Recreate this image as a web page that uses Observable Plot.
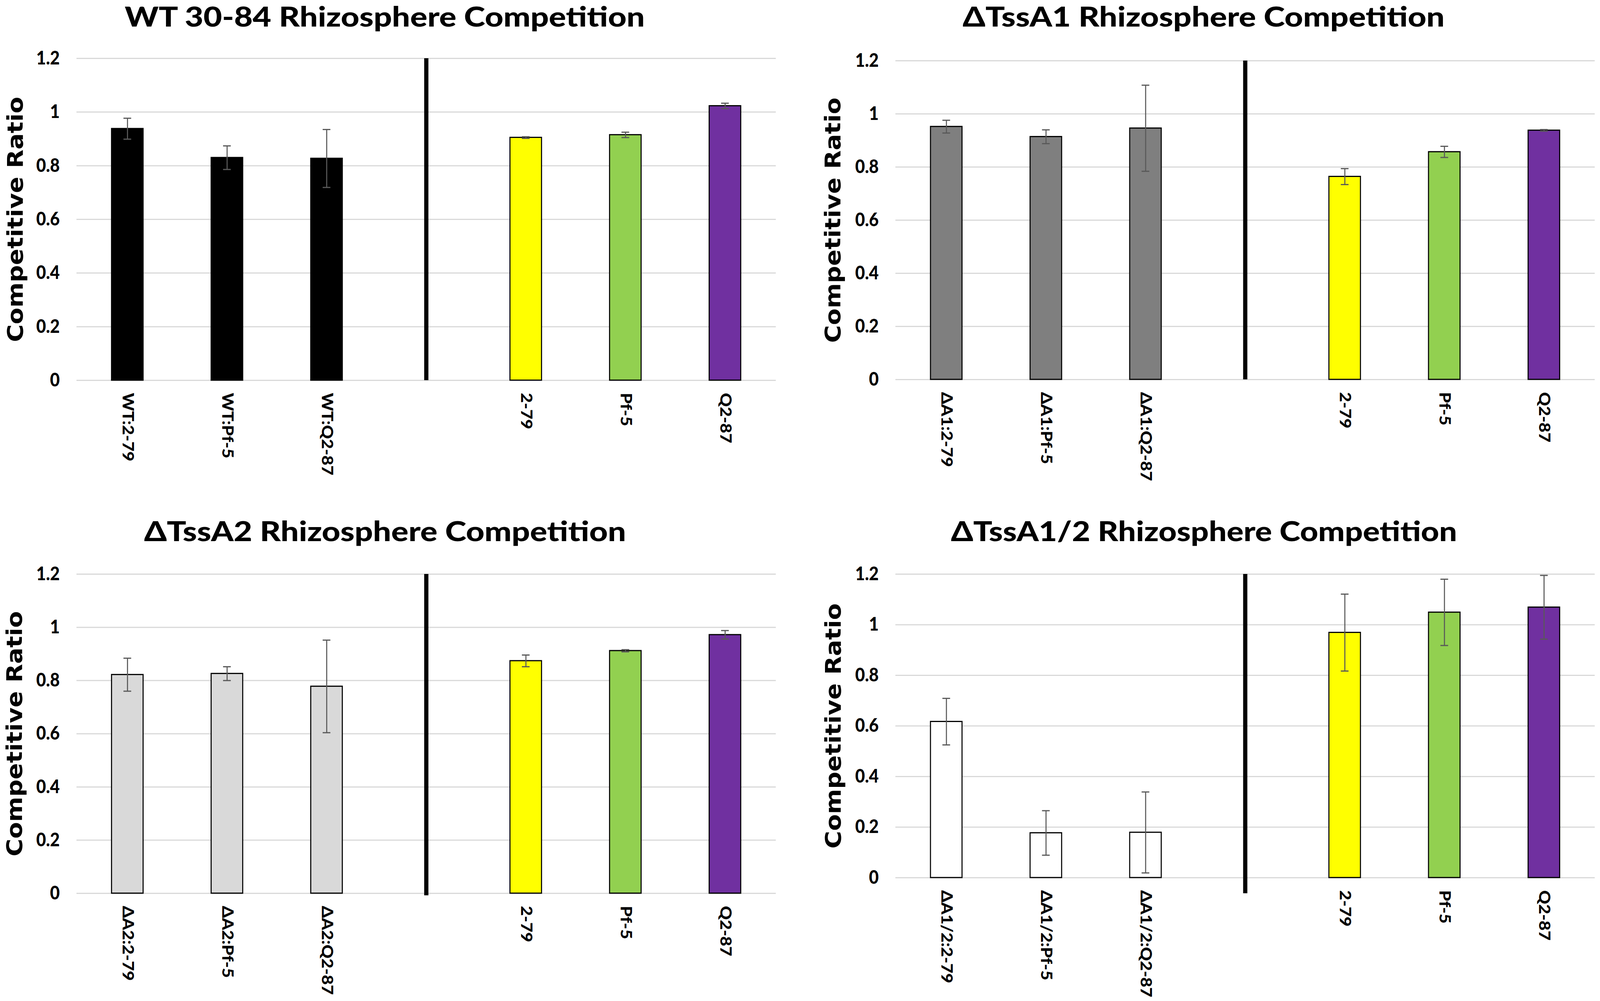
<!DOCTYPE html>
<html>
<head>
<meta charset="utf-8">
<script src="https://cdn.jsdelivr.net/npm/d3@7"></script>
<script src="https://cdn.jsdelivr.net/npm/@observablehq/plot@0.6"></script>
<style>
  html, body { margin: 0; padding: 0; background: #fff; overflow: hidden; }
  #wrap { position: relative; overflow: hidden; background: #fff; width: 4562px; height: 2562px; }
  #page { position: absolute; left: 0; top: 0; width: 4562px; height: 2562px; background: #fff; overflow: hidden; transform-origin: 0 0; }
  .panel { position: absolute; }
  .panel svg { display: block; max-width: none !important; }
  .panel svg text { font-weight: 900; }
  .title { position: absolute; left: 0; top: 0; pointer-events: none; }
</style>
</head>
<body>
<div id="wrap"><div id="page"></div></div>
<script>
// ---------- DATA ----------
const titles = [
  "WT 30-84 Rhizosphere Competition",
  "ΔTssA1 Rhizosphere Competition",
  "ΔTssA2 Rhizosphere Competition",
  "ΔTssA1/2 Rhizosphere Competition"
];
const yLabel = "Competitive Ratio";
const yTicks = [0, 0.2, 0.4, 0.6, 0.8, 1, 1.2];
const yTickLabels = ["0", "0.2", "0.4", "0.6", "0.8", "1", "1.2"];

const controlLabels = ["2-79", "Pf-5", "Q2-87"];
const controlFills = ["#ffff00", "#92d050", "#7030a0"];

const wtLabels  = ["WT:2-79", "WT:Pf-5", "WT:Q2-87"];
const a1Labels  = ["ΔA1:2-79", "ΔA1:Pf-5", "ΔA1:Q2-87"];
const a2Labels  = ["ΔA2:2-79", "ΔA2:Pf-5", "ΔA2:Q2-87"];
const a12Labels = ["ΔA1/2:2-79", "ΔA1/2:Pf-5", "ΔA1/2:Q2-87"];

const wtValues  = [0.938, 0.830, 0.827];
const wtErrors  = [0.039, 0.044, 0.108];
const wtCtrl    = [0.905, 0.915, 1.023];
const wtCtrlErr = [0.003, 0.010, 0.010];

const a1Values  = [0.952, 0.914, 0.946];
const a1Errors  = [0.024, 0.026, 0.162];
const a1Ctrl    = [0.764, 0.857, 0.938];
const a1CtrlErr = [0.030, 0.021, 0.003];

const a2Values  = [0.822, 0.826, 0.778];
const a2Errors  = [0.062, 0.026, 0.174];
const a2Ctrl    = [0.874, 0.912, 0.972];
const a2CtrlErr = [0.022, 0.004, 0.016];

const a12Values  = [0.617, 0.177, 0.179];
const a12Errors  = [0.092, 0.088, 0.160];
const a12Ctrl    = [0.969, 1.049, 1.069];
const a12CtrlErr = [0.152, 0.131, 0.126];

const mutantFills = ["#000000", "#7f7f7f", "#d9d9d9", "#ffffff"];
const dividerLow = [0, 0, -0.008, -0.062];

// ---------- LAYOUT ----------
const layout = [
  {left: 0,    top: 0,    width: 2281, height: 1280, mt: 149, mr: 69, mb: 307, ml: 218, labelDx: -174, titleX: 1097, titleY: 68,  titleW: 1483},
  {left: 2280, top: 0,    width: 2282, height: 1280, mt: 155, mr: 15, mb: 309, ml: 273, labelDx: -178, titleX: 1152, titleY: 68,  titleW: 1374},
  {left: 0,    top: 1280, width: 2281, height: 1282, mt: 189, mr: 69, mb: 276, ml: 218, labelDx: -176, titleX: 1098, titleY: 105, titleW: 1374},
  {left: 2280, top: 1280, width: 2282, height: 1282, mt: 189, mr: 15, mb: 316, ml: 273, labelDx: -176, titleX: 1153, titleY: 105, titleW: 1443}
];

const series = [
  {labels: wtLabels,  values: wtValues,  errors: wtErrors,  ctrl: wtCtrl,  ctrlErr: wtCtrlErr},
  {labels: a1Labels,  values: a1Values,  errors: a1Errors,  ctrl: a1Ctrl,  ctrlErr: a1CtrlErr},
  {labels: a2Labels,  values: a2Values,  errors: a2Errors,  ctrl: a2Ctrl,  ctrlErr: a2CtrlErr},
  {labels: a12Labels, values: a12Values, errors: a12Errors, ctrl: a12Ctrl, ctrlErr: a12CtrlErr}
];

const wrap = document.getElementById("wrap");
const page = document.getElementById("page");
const errColor = "#595959";

series.forEach((s, k) => {
  const L = layout[k];
  const rows = [];
  s.labels.forEach((c, i) => rows.push({cat: c, v: s.values[i], e: s.errors[i], fill: mutantFills[k]}));
  controlLabels.forEach((c, i) => rows.push({cat: c, v: s.ctrl[i], e: s.ctrlErr[i], fill: controlFills[i]}));
  const domain = [...s.labels, "", ...controlLabels];

  const chart = Plot.plot({
    width: L.width,
    height: L.height,
    marginTop: L.mt, marginRight: L.mr, marginBottom: L.mb, marginLeft: L.ml,
    style: {fontFamily: "Lato", fontWeight: "bold", background: "white", overflow: "visible", color: "#000"},
    x: {domain, paddingInner: 0.684, paddingOuter: 0.342, align: 0.5},
    y: {domain: [0, 1.2]},
    color: {type: "identity"},
    marks: [
      Plot.ruleY(yTicks, {stroke: "#d9d9d9", strokeWidth: 3}),
      Plot.barY(rows, {x: "cat", y: "v", fill: "fill", stroke: "#000", strokeWidth: 3}),
      Plot.ruleX(rows, {x: "cat", y1: d => d.v - d.e, y2: d => d.v + d.e, stroke: errColor, strokeWidth: 3}),
      Plot.tickY(rows, {x: "cat", y: d => d.v - d.e, stroke: errColor, strokeWidth: 3, inset: 34}),
      Plot.tickY(rows, {x: "cat", y: d => d.v + d.e, stroke: errColor, strokeWidth: 3, inset: 34}),
      Plot.ruleX([""], {x: d => d, y1: 1.2, y2: dividerLow[k], stroke: "#000", strokeWidth: 12}),
      Plot.axisY(yTicks, {tickSize: 0, tickPadding: 48, fontSize: 48, fontWeight: 900, fontFamily: "Lato", label: null,
        tickFormat: d => yTickLabels[yTicks.indexOf(d)]}),
      Plot.axisX({tickSize: 0, tickPadding: 32, tickRotate: 90, fontSize: 44, fontWeight: 900, fontFamily: "Lato", label: null}),
      Plot.text([yLabel], {frameAnchor: "left", textAnchor: "middle", lineAnchor: "middle", rotate: -90, dx: L.labelDx,
        fontFamily: "DejaVu Sans", fontWeight: "bold", fontSize: 62, fill: "#000"})
    ]
  });

  const div = document.createElement("div");
  div.className = "panel";
  div.style.left = L.left + "px";
  div.style.top = L.top + "px";
  div.style.width = L.width + "px";
  div.style.height = L.height + "px";
  div.appendChild(chart);

  // title
  const ns = "http://www.w3.org/2000/svg";
  const tsvg = document.createElementNS(ns, "svg");
  tsvg.setAttribute("class", "title");
  tsvg.setAttribute("width", L.width);
  tsvg.setAttribute("height", 140);
  const t = document.createElementNS(ns, "text");
  t.setAttribute("x", L.titleX);
  t.setAttribute("y", L.titleY);
  t.setAttribute("text-anchor", "middle");
  t.setAttribute("font-family", "Lato");
  t.setAttribute("font-weight", "bold");
  t.setAttribute("font-size", "70");
  t.setAttribute("textLength", L.titleW);
  t.setAttribute("lengthAdjust", "spacingAndGlyphs");
  t.textContent = titles[k];
  tsvg.appendChild(t);
  div.appendChild(tsvg);

  page.appendChild(div);
});

// map the 4562x2562 design onto whatever viewport the browser actually has
function fit() {
  const w = window.innerWidth, h = window.innerHeight;
  const sx = w / 4562, sy = h / 2562;
  wrap.style.width = w + "px";
  wrap.style.height = h + "px";
  page.style.transform = (Math.abs(sx - 1) > 0.0005 || Math.abs(sy - 1) > 0.0005) ? `scale(${sx}, ${sy})` : "none";
}
fit();
window.addEventListener("resize", fit);
</script>
</body>
</html>
